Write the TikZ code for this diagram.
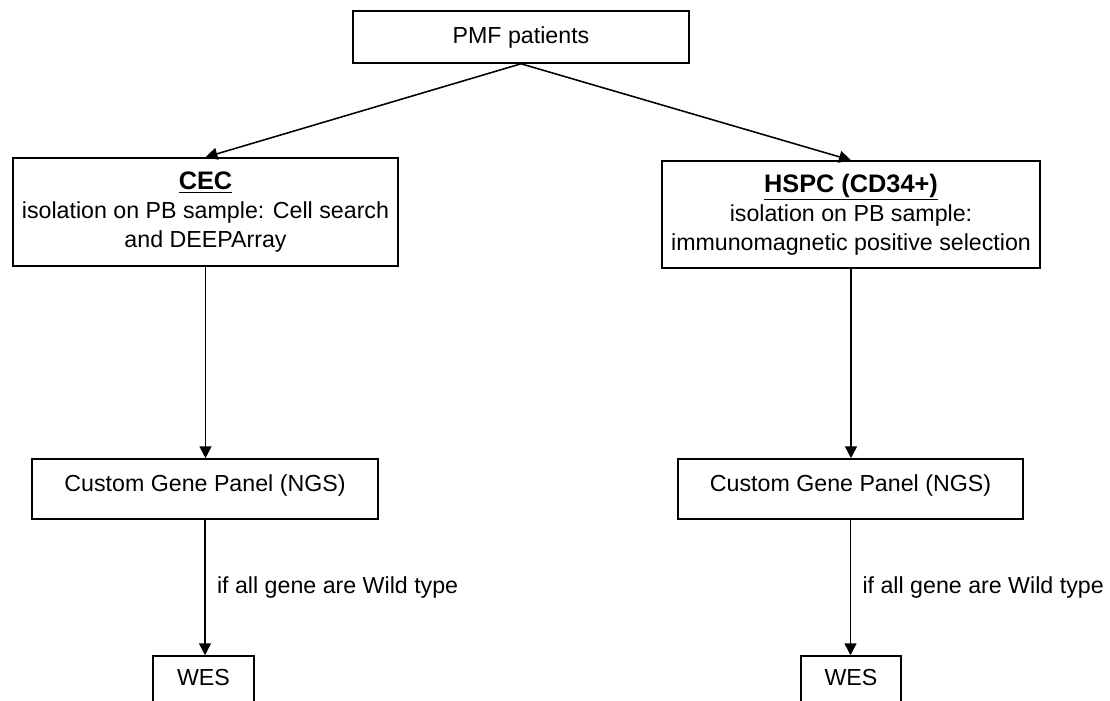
\documentclass[tikz,border=0pt]{standalone}
\usepackage{fontspec}
\setmainfont{Liberation Sans}
\usetikzlibrary{arrows.meta}
\newcommand{\cellhead}[1]{{\fontsize{18}{21}\selectfont\bfseries\underline{#1}}}
\begin{document}
\begin{tikzpicture}[x=0.025cm,y=-0.025cm,
  every node/.style={font=\fontsize{16.5}{20.5}\selectfont},
  box/.style={draw,line width=1.1pt,inner sep=0pt,align=center},
  link/.style={line width=1.1pt,-{Triangle[length=8.5pt,width=8.5pt]}},
  note/.style={right,inner sep=8pt}]
\useasboundingbox (0,0) rectangle (1110,700);

% Box for the patients
\node[box,minimum width=336*0.025cm,minimum height=52*0.025cm] (pmf) at (521,37) {PMF patients};

% Boxes for the two isolated cell types
\node[box,minimum width=385*0.025cm,minimum height=108*0.025cm] (cec) at (205.5,212)
  {\cellhead{CEC}\\isolation on PB sample: Cell search\\and DEEPArray};
\node[box,minimum width=378*0.025cm,minimum height=107*0.025cm] (hspc) at (851,214.5)
  {\cellhead{HSPC (CD34+)}\\isolation on PB sample:\\immunomagnetic positive selection};

% Gene panel boxes
\node[box,minimum width=346*0.025cm,text height=22.8pt,text depth=19.9pt] (ngsL) at (205,489) {Custom Gene Panel (NGS)};
\node[box,minimum width=345*0.025cm,text height=22.8pt,text depth=19.9pt] (ngsR) at (850.5,489) {Custom Gene Panel (NGS)};

% WES boxes (cut at the bottom)
\node[box,minimum width=101*0.025cm,text height=21.3pt,text depth=24.2pt] (wesL) at (203.5,688) {WES};
\node[box,minimum width=100*0.025cm,text height=21.3pt,text depth=24.2pt] (wesR) at (851,688) {WES};

% Arrows
\draw[link] (pmf.south) -- (cec.north);
\draw[link] (pmf.south) -- (hspc.north);
\draw[link] (cec.south) -- (cec.south |- ngsL.north);
\draw[link] (hspc.south) -- (hspc.south |- ngsR.north);
\draw[link] (ngsL.south) -- node[note] {if all gene are Wild type} (ngsL.south |- wesL.north);
\draw[link] (ngsR.south) -- node[note] {if all gene are Wild type} (ngsR.south |- wesR.north);
\end{tikzpicture}
\end{document}
